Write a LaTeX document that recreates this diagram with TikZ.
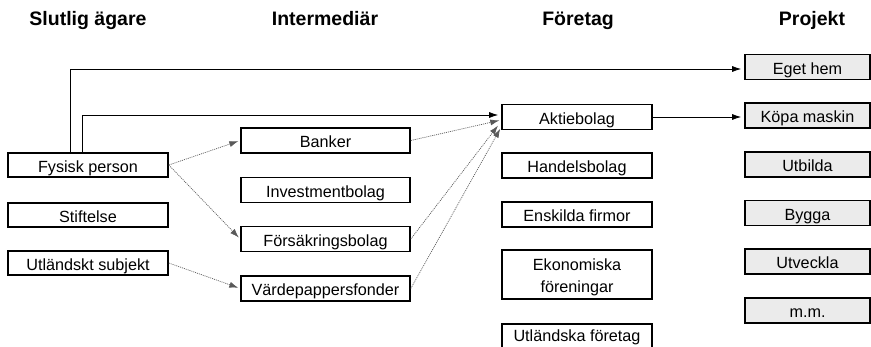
\documentclass[tikz,border=0pt]{standalone}
\usepackage{fontspec}
\setmainfont{Liberation Sans}
\usetikzlibrary{arrows.meta}
\begin{document}
\begin{tikzpicture}[x=1pt,y=-1pt,
  box/.style={draw=black, line width=1.6pt, rectangle, inner sep=0pt, minimum height=25pt,
    font=\fontsize{16.2}{19}\selectfont, align=center, text height=16.5pt, text depth=1.5pt},
  c1/.style={box, minimum width=160pt, minimum height=24pt},
  c2/.style={box, minimum width=169pt},
  c3/.style={box, minimum width=150pt},
  c4/.style={box, minimum width=125pt, fill=black!8},
  txt/.style={font=\fontsize{16.2}{19}\selectfont, inner sep=0pt, anchor=base},
  head/.style={font=\fontsize{19.5}{22}\selectfont\bfseries, inner sep=0pt, anchor=base},
  arr/.style={line width=0.8pt, -{Latex[length=9pt,width=6pt]}, shorten >=3pt},
  dot/.style={line width=0.7pt, draw=black!65, dash pattern=on 1pt off 1pt,
    -{Latex[length=9pt,width=6pt]}, shorten >=2pt}]
\useasboundingbox (0,0) rectangle (871,347);
\clip (0,0) rectangle (871,347);

% headings
\node[head] (h1) at (88,25.5) {Slutlig ägare};
\node[head] (h2) at (325,25.5) {Intermediär};
\node[head] (h3) at (578,25.5) {Företag};
\node[head] (h4) at (812,25.5) {Projekt};

% column 1
\node[c1] (fp) at (88,165) {Fysisk person};
\node[c1] (st) at (88,215) {Stiftelse};
\node[c1] (us) at (88,263) {Utländskt subjekt};

% column 2
\node[c2] (bk) at (325.5,140.5) {Banker};
\node[c2] (ib) at (325.5,190) {Investmentbolag};
\node[c2] (fb) at (325.5,239) {Försäkringsbolag};
\node[c2] (vf) at (325.5,288.5) {Värdepappersfonder};

% column 3
\node[c3] (ab) at (577,117) {Aktiebolag};
\node[c3] (hb) at (577,165.5) {Handelsbolag};
\node[c3] (ef) at (577,214.5) {Enskilda firmor};
\node[c3, minimum height=49pt] (ek) at (577,274.5) {};
\node[txt] (ek1) at (577,271) {Ekonomiska};
\node[txt] (ek2) at (577,293) {föreningar};
\node[c3, minimum height=50pt, anchor=north] (uf) at (577,323) {};
\node[txt] (uft) at (577,341.5) {Utländska företag};

% column 4
\node[c4] (eh) at (807.5,67) {Eget hem};
\node[c4] (km) at (807.5,115.5) {Köpa maskin};
\node[c4] (ub) at (807.5,164.5) {Utbilda};
\node[c4] (by) at (807.5,213) {Bygga};
\node[c4] (uv) at (807.5,261.5) {Utveckla};
\node[c4] (mm) at (807.5,310.5) {m.m.};

% solid connectors
\draw[arr] ([xshift=-18pt]fp.north) |- ([yshift=-2pt]eh.west);
\draw[arr] ([xshift=-6pt]fp.north) |- ([yshift=2pt]ab.west);
\draw[arr] (ab.east) -- (km.west |- ab.east);

% dotted connectors
\draw[dot] (fp.east) -- (bk.west);
\draw[dot] (fp.east) -- (fb.west);
\draw[dot] (us.east) -- (vf.west);
\draw[dot] (bk.east) -- ([yshift=-3pt]ab.west);
\draw[dot] (fb.east) -- ([yshift=-7pt,xshift=-2pt]ab.west);
\draw[dot] (vf.east) -- ([yshift=-10pt]ab.west);
\end{tikzpicture}
\end{document}
